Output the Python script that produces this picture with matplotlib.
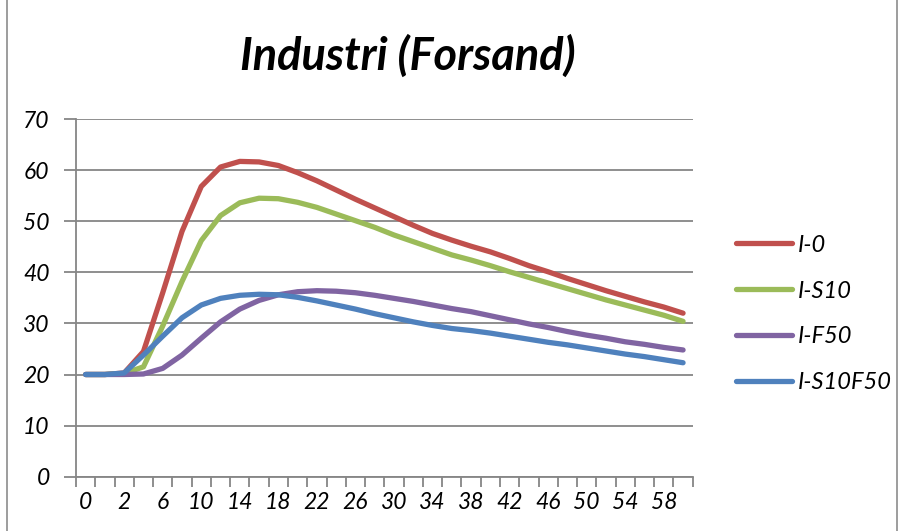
import numpy as np
import matplotlib
matplotlib.use("Agg")
import matplotlib.pyplot as plt
from matplotlib.lines import Line2D

# Time steps (category axis) and simulated series
categories = [0, 1] + list(range(2, 61, 2))

i_0 = [20.0, 20.0, 20.3, 24.5, 36.0, 48.0, 56.8, 60.6, 61.7, 61.6, 60.9, 59.5,
       57.9, 56.1, 54.3, 52.6, 50.9, 49.2, 47.6, 46.3, 45.1, 44.0, 42.7, 41.3,
       40.1, 38.8, 37.6, 36.4, 35.3, 34.2, 33.2, 32.0]
i_s10 = [20.0, 20.0, 20.2, 21.5, 29.5, 38.2, 46.2, 51.1, 53.6, 54.5, 54.4, 53.7,
         52.7, 51.4, 50.1, 48.8, 47.3, 46.0, 44.7, 43.4, 42.4, 41.3, 40.1, 39.0,
         37.9, 36.8, 35.7, 34.6, 33.6, 32.6, 31.6, 30.4]
i_f50 = [20.0, 20.0, 20.0, 20.1, 21.2, 23.8, 27.1, 30.3, 32.8, 34.5, 35.6, 36.2,
         36.4, 36.3, 36.0, 35.5, 34.9, 34.3, 33.6, 32.9, 32.3, 31.5, 30.7, 29.9,
         29.2, 28.4, 27.7, 27.1, 26.4, 25.9, 25.3, 24.8]
i_s10f50 = [20.0, 20.0, 20.3, 23.8, 27.5, 31.1, 33.6, 34.9, 35.5, 35.7, 35.6, 35.1,
            34.4, 33.6, 32.8, 31.9, 31.1, 30.3, 29.6, 29.0, 28.6, 28.1, 27.5, 26.9,
            26.3, 25.8, 25.2, 24.6, 24.0, 23.5, 22.9, 22.3]

series_names = ["I-0", "I-S10", "I-F50", "I-S10F50"]
series_values = [i_0, i_s10, i_f50, i_s10f50]
series_colors = ["#C0504D", "#9BBB59", "#8064A2", "#4F81BD"]

y_ticks = [0, 10, 20, 30, 40, 50, 60, 70]

plt.rcParams["font.family"] = ["Lato", "DejaVu Sans"]

W, H = 903, 531
fig = plt.figure(figsize=(W / 100, H / 100), dpi=100)

# chart-area frame
fig.add_artist(Line2D([7 / W, 7 / W], [0, 1], color="#8c8c8c", lw=1.2,
                      transform=fig.transFigure))
fig.add_artist(Line2D([897 / W, 897 / W], [0, 1], color="#8c8c8c", lw=1.2,
                      transform=fig.transFigure))

left, right = 76 / W, 692.7 / W
bottom, top = (H - 476.7) / H, (H - 119) / H
ax = fig.add_axes([left, bottom, right - left, top - bottom])

x = np.arange(len(categories))
for name, vals, col in zip(series_names, series_values, series_colors):
    ax.plot(x, vals, color=col, lw=3.8, solid_capstyle="round",
            solid_joinstyle="round", label=name)

grid_col = "#868686"
ax.set_xlim(-0.5, len(categories) - 0.5)
ax.set_ylim(0, 70)
ax.set_yticks(y_ticks)
ax.set_yticklabels([str(v) for v in y_ticks], fontsize=16.5, style="italic")
ax.yaxis.grid(True, color=grid_col, lw=1.3)
ax.set_axisbelow(True)

# tick marks at category boundaries, labels at every second category
ax.set_xticks(np.arange(-0.5, len(categories), 1.0))
ax.set_xticklabels([])
ax.set_xticks(x[::2], minor=True)
ax.set_xticklabels([str(c) for c in categories[::2]], minor=True,
                   fontsize=16.5, style="italic")
ax.tick_params(axis="x", which="major", length=7, width=1.3, color=grid_col,
               direction="out")
ax.tick_params(axis="x", which="minor", length=0, pad=11)
ax.tick_params(axis="y", length=9, width=1.3, color=grid_col, pad=10,
               direction="out")

for s in ["top", "right"]:
    ax.spines[s].set_visible(False)
for s in ["left", "bottom"]:
    ax.spines[s].set_color(grid_col)
    ax.spines[s].set_linewidth(1.3)

fig.text(408 / W, 1 - 56 / H, "Industri (Forsand)", ha="center", va="center",
         fontsize=32.5, fontweight="bold", style="italic")

leg = ax.legend(loc="center left", bbox_to_anchor=(1.035, 0.455),
                frameon=False, fontsize=17, handlelength=2.4,
                labelspacing=1.05, handletextpad=0.25)
for t in leg.get_texts():
    t.set_style("italic")

fig.savefig("out.png", dpi=100)
